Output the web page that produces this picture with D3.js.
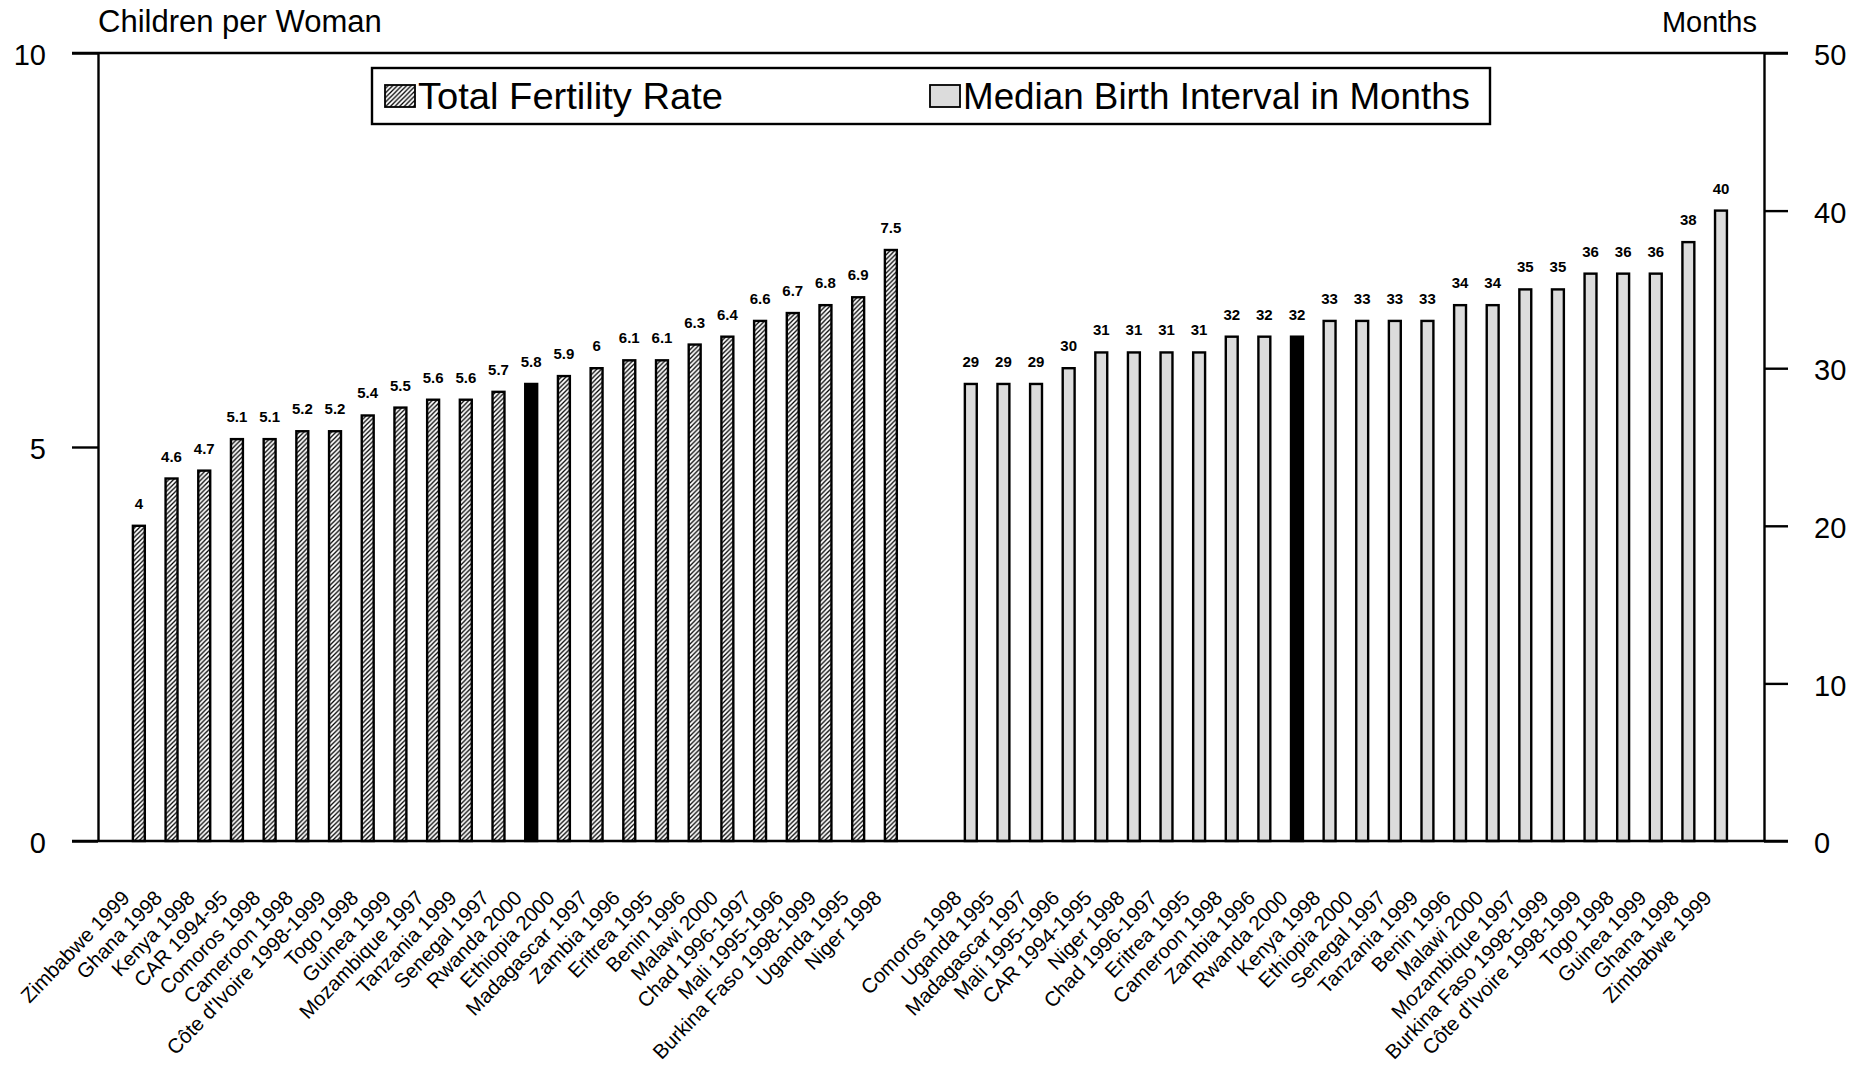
<!DOCTYPE html>
<html><head><meta charset="utf-8">
<script src="https://cdn.jsdelivr.net/npm/d3@7"></script>
<style>
body{margin:0;background:#fff}
svg{display:block}
text{font-family:"Liberation Sans",Arial,Helvetica,sans-serif;fill:#000}
</style>
</head><body>
<svg id="chart" width="1864" height="1068"></svg>
<script>
// ---------- data ----------
const tfrCountries = ["Zimbabwe 1999","Ghana 1998","Kenya 1998","CAR 1994-95","Comoros 1998","Cameroon 1998","Côte d'Ivoire 1998-1999","Togo 1998","Guinea 1999","Mozambique 1997","Tanzania 1999","Senegal 1997","Rwanda 2000","Ethiopia 2000","Madagascar 1997","Zambia 1996","Eritrea 1995","Benin 1996","Malawi 2000","Chad  1996-1997","Mali 1995-1996","Burkina Faso 1998-1999","Uganda 1995","Niger 1998"];
const tfrValues = [4,4.6,4.7,5.1,5.1,5.2,5.2,5.4,5.5,5.6,5.6,5.7,5.8,5.9,6,6.1,6.1,6.3,6.4,6.6,6.7,6.8,6.9,7.5];
const bintCountries = ["Comoros 1998","Uganda 1995","Madagascar 1997","Mali 1995-1996","CAR 1994-1995","Niger 1998","Chad  1996-1997","Eritrea 1995","Cameroon 1998","Zambia 1996","Rwanda 2000","Kenya 1998","Ethiopia 2000","Senegal 1997","Tanzania 1999","Benin 1996","Malawi 2000","Mozambique 1997","Burkina Faso 1998-1999","Côte d'Ivoire 1998-1999","Togo 1998","Guinea 1999","Ghana 1998","Zimbabwe 1999"];
const bintValues = [29,29,29,30,31,31,31,31,32,32,32,33,33,33,33,34,34,35,35,36,36,36,38,40];
const highlightCountry = "Rwanda 2000";
const leftTicks = [0,5,10];
const rightTicks = [0,10,20,30,40,50];
const leftTitle = "Children per Woman";
const rightTitle = "Months";
const legendLabels = ["Total Fertility Rate","Median Birth Interval in Months"];

// ---------- layout ----------
const L = 98, R = 1764, T = 53, B = 841;
const SW = 2.4;
const svg = d3.select("#chart");

const defs = svg.append("defs");
const pat = defs.append("pattern").attr("id","hatch").attr("patternUnits","userSpaceOnUse")
  .attr("width",4.6).attr("height",4.6);
pat.append("rect").attr("width",4.6).attr("height",4.6).attr("fill","#fff");
pat.append("path").attr("d","M-1,1 L1,-1 M0,4.6 L4.6,0 M3.6,5.6 L5.6,3.6")
  .attr("stroke","#000").attr("stroke-width",1.3);

const yL = d3.scaleLinear().domain([0,10]).range([B,T]);
const yR = d3.scaleLinear().domain([0,50]).range([B,T]);
const pInner = 0.635;
const xL = d3.scaleBand().domain(tfrCountries).range([L+24.5, L+809.2]).paddingInner(pInner).paddingOuter(pInner/2);
const xR = d3.scaleBand().domain(bintCountries).range([L+856.5, L+1639.3]).paddingInner(pInner).paddingOuter(pInner/2);

function drawGroup(cats, vals, x, y, fill){
  const g = svg.append("g");
  const d = cats.map((c,i)=>({c, v:vals[i]}));
  g.selectAll("rect").data(d).join("rect")
    .attr("x", e=>x(e.c)).attr("width", x.bandwidth())
    .attr("y", e=>y(e.v)).attr("height", e=>y(0)-y(e.v))
    .attr("fill", e=> e.c===highlightCountry ? "#000" : fill)
    .attr("stroke","#000").attr("stroke-width",SW);
  g.selectAll("text.val").data(d).join("text").attr("class","val")
    .attr("x", e=>x(e.c)+x.bandwidth()/2).attr("y", e=>y(e.v)-17)
    .attr("text-anchor","middle").attr("font-size",15).attr("font-weight","bold")
    .text(e=>String(e.v));
  g.selectAll("text.cat").data(d).join("text").attr("class","cat")
    .attr("transform", e=>`translate(${x(e.c)+x.bandwidth()/2-8},899) rotate(-46)`)
    .attr("text-anchor","end").attr("font-size",20.5)
    .text(e=>e.c);
}
drawGroup(tfrCountries, tfrValues, xL, yL, "url(#hatch)");
drawGroup(bintCountries, bintValues, xR, yR, "#dcdcdc");

// axes
const axL = svg.append("g").attr("transform",`translate(${L},0)`)
  .call(d3.axisLeft(yL).tickValues(leftTicks).tickSize(26).tickSizeOuter(0).tickPadding(26));
const axR = svg.append("g").attr("transform",`translate(${R},0)`)
  .call(d3.axisRight(yR).tickValues(rightTicks).tickSize(24).tickSizeOuter(0).tickPadding(26));
[axL,axR].forEach(a=>{
  a.selectAll("path,line").attr("stroke","#000").attr("stroke-width",SW);
  a.selectAll("text").attr("font-size",29).attr("font-family",'"Liberation Sans",Arial,sans-serif').attr("dy","0.4em");
});
// frame top and baseline
svg.append("line").attr("x1",L-26).attr("x2",R+24).attr("y1",yL(10)).attr("y2",yL(10)).attr("stroke","#000").attr("stroke-width",SW);
svg.append("line").attr("x1",L-26).attr("x2",R+24).attr("y1",yL(0)).attr("y2",yL(0)).attr("stroke","#000").attr("stroke-width",SW);

// axis titles
svg.append("text").attr("x",L).attr("y",32).attr("font-size",31).text(leftTitle);
svg.append("text").attr("x",R-7).attr("y",32).attr("text-anchor","end").attr("font-size",29).text(rightTitle);

// legend
const lg = svg.append("g");
lg.append("rect").attr("x",372).attr("y",68).attr("width",1118).attr("height",56)
  .attr("fill","#fff").attr("stroke","#000").attr("stroke-width",SW);
const items = [{x:385, fill:"url(#hatch)", t:legendLabels[0], w:305},{x:930, fill:"#dcdcdc", t:legendLabels[1], w:507}];
items.forEach(it=>{
  lg.append("rect").attr("x",it.x).attr("y",85).attr("width",30).attr("height",22)
    .attr("fill",it.fill).attr("stroke","#000").attr("stroke-width",1.8);
  lg.append("text").attr("x",it.x+33).attr("y",109).attr("font-size",37)
    .attr("textLength",it.w).attr("lengthAdjust","spacingAndGlyphs").text(it.t);
});
</script>
</body></html>
